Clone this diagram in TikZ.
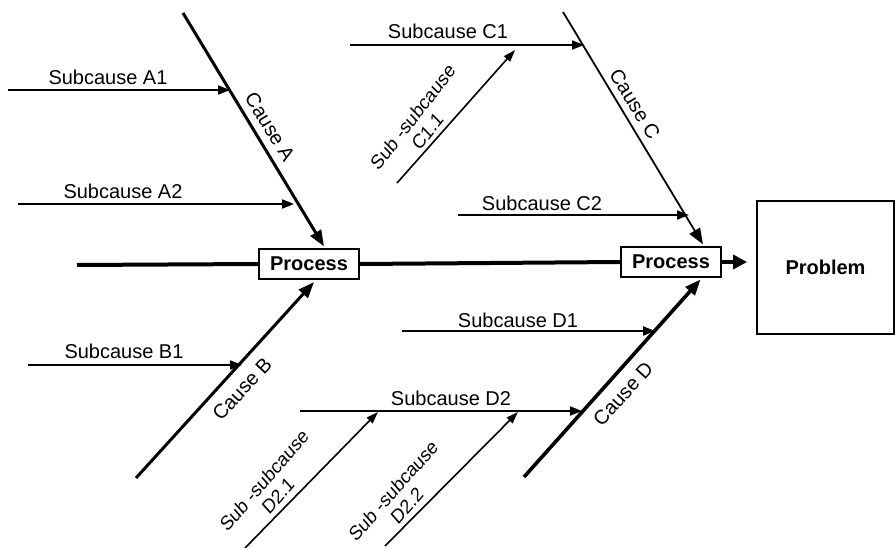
\documentclass[tikz,border=0pt]{standalone}
\usepackage{fontspec}
\setmainfont{Liberation Sans}
\usetikzlibrary{arrows.meta,positioning}

\begin{document}
\begin{tikzpicture}[
    x=1pt, y=-1pt,
    txt/.style={font=\fontsize{20}{22}\selectfont, inner sep=0pt},
    slant/.style={txt, align=center, xscale=0.88},
    procbox/.style={draw, line width=1.8pt, font=\fontsize{20}{22}\selectfont\bfseries, minimum width=100pt, minimum height=30pt, inner sep=0pt, fill=white},
    probbox/.style={draw, line width=1.8pt, font=\fontsize{20}{22}\selectfont\bfseries, minimum width=137pt, minimum height=133pt},
    spine/.style={line width=4pt},
    bone/.style={-{Triangle[length=16pt,width=12pt]}, line width=3pt},
    twig/.style={-{Triangle[length=12pt,width=9pt]}, line width=1.8pt},
    subtwig/.style={-{Triangle[length=12pt,width=8pt]}, line width=1.6pt}
]
    \useasboundingbox (0,0) rectangle (896,548);

    % main line
    \node[procbox] (proc1) at (309,264) {Process};
    \node[procbox] (proc2) at (671,262) {Process};
    \node[probbox] (prob) at (825.5,267.5) {Problem};
    \coordinate (start) at (77,265);

    \draw[spine] (start) -- (proc1.west);
    \draw[spine] (proc1.east) -- (proc2.west);
    \draw[spine, -{Triangle[length=14pt,width=14pt]}, shorten >=9pt] (proc2.east) -- (proc2.east -| prob.west);

    % causes
    \coordinate (tailA) at (183,13);
    \coordinate (tailB) at (136,478);
    \coordinate (tailC) at (563,12);
    \coordinate (tailD) at (524,477);

    \draw[bone, shorten >=2pt] (tailA) -- ([xshift=16pt]proc1.north);
    \draw[bone, shorten >=3pt] (tailB) -- ([xshift=7pt]proc1.south);
    \draw[bone, line width=1.8pt, shorten >=2pt] (tailC) -- ([xshift=33pt]proc2.north);
    \draw[bone, line width=3.6pt, shorten >=2pt] (tailD) -- ([xshift=31pt]proc2.south);

    \node[txt, rotate=-58.7] (labA) at (270,127) {Cause A};
    \node[txt, rotate=47.3] (labB) at (242,389) {Cause B};
    \node[txt, rotate=-58.3] (labC) at (635,104) {Cause C};
    \node[txt, rotate=47.7] (labD) at (623,394) {Cause D};

    % subcauses
    \coordinate (a1tail) at (8,90);    \coordinate (a1head) at (230,90);
    \coordinate (a2tail) at (18,204);  \coordinate (a2head) at (294,204);
    \coordinate (b1tail) at (28,365);  \coordinate (b1head) at (242,365);
    \coordinate (c1tail) at (350,45);  \coordinate (c1head) at (584,45);
    \coordinate (c2tail) at (458,215); \coordinate (c2head) at (689,215);
    \coordinate (d1tail) at (402,331); \coordinate (d1head) at (655,331);
    \coordinate (d2tail) at (300,411); \coordinate (d2head) at (582,411);

    \draw[twig] (a1tail) -- (a1head);
    \draw[twig] (a2tail) -- (a2head);
    \draw[twig] (b1tail) -- (b1head);
    \draw[twig] (c1tail) -- (c1head);
    \draw[twig] (c2tail) -- (c2head);
    \draw[twig] (d1tail) -- (d1head);
    \draw[twig] (d2tail) -- (d2head);

    \node[txt, anchor=base] (labA1) at (108,85) {Subcause A1};
    \node[txt, anchor=base] (labA2) at (123,198) {Subcause A2};
    \node[txt, anchor=base] (labB1) at (124,358) {Subcause B1};
    \node[txt, anchor=base] (labC1) at (448,39) {Subcause C1};
    \node[txt, anchor=base] (labC2) at (542,210) {Subcause C2};
    \node[txt, anchor=base] (labD1) at (518,327) {Subcause D1};
    \node[txt, anchor=base] (labD2) at (451,405) {Subcause D2};

    % sub-subcauses
    \coordinate (c11tail) at (397,183); \coordinate (c11head) at (515,50);
    \coordinate (d21tail) at (245,548); \coordinate (d21head) at (378,412);
    \coordinate (d22tail) at (385,546); \coordinate (d22head) at (518,412);

    \draw[subtwig] (c11tail) -- (c11head);
    \draw[subtwig] (d21tail) -- (d21head);
    \draw[subtwig] (d22tail) -- (d22head);

    \node[slant, rotate=48.4] (labC11) at (420,124) {Sub -subcause\\C1.1};
    \node[slant, rotate=45.4] (labD21) at (271,488) {Sub -subcause\\D2.1};
    \node[slant, rotate=45] (labD22) at (400,498) {Sub -subcause\\D2.2};
\end{tikzpicture}
\end{document}
